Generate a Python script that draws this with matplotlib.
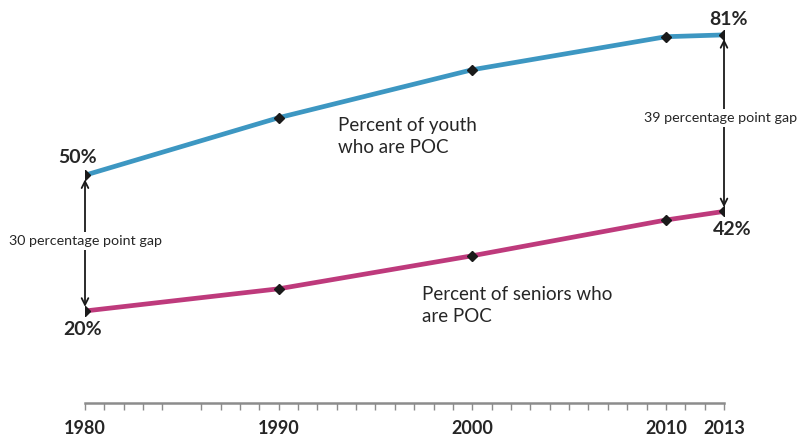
import numpy as np
import matplotlib
matplotlib.use("Agg")
import matplotlib.pyplot as plt

plt.rcParams['font.family'] = ['Lato', 'DejaVu Sans']

years = [1980, 1990, 2000, 2010, 2013]
youth_poc = [50, 62.7, 73.3, 80.6, 81]
senior_poc = [20, 24.9, 32.2, 40.1, 42]

tick_years = [1980, 1990, 2000, 2010, 2013]
minor_years = [y for y in range(1980, 2014) if y != 1985]

blue = '#3d97c2'
magenta = '#be3a7c'
txt = '#262626'

fig = plt.figure(figsize=(7.99, 4.43), dpi=100)
ax = fig.add_axes([85 / 799, 40 / 443, 639 / 799, 393 / 443])

ax.plot(years, youth_poc, color=blue, lw=3.4, solid_capstyle='round', zorder=2)
ax.plot(years, senior_poc, color=magenta, lw=3.4, solid_capstyle='round', zorder=2)
ax.plot(years, youth_poc, ls='none', marker='D', ms=5.5, color='#1a1a1a', zorder=3)
ax.plot(years, senior_poc, ls='none', marker='D', ms=5.5, color='#1a1a1a', zorder=3)

ax.set_xlim(1980, 2013)
ax.set_ylim(-0.33, 86.5)

for s in ['top', 'right', 'left']:
    ax.spines[s].set_visible(False)
ax.spines['bottom'].set_color('#8c8c8c')
ax.spines['bottom'].set_linewidth(1.8)
ax.set_yticks([])

ax.set_xticks(tick_years)
ax.set_xticklabels([str(y) for y in tick_years], fontsize=13, fontweight='bold', color=txt)
ax.set_xticks(minor_years, minor=True)
ax.tick_params(axis='x', which='both', direction='out', length=5, width=1,
               color='#8c8c8c', pad=7.5)

# end point labels
lab = dict(ha='center', va='baseline', fontsize=14, fontweight='bold', color=txt, clip_on=False)
ax.text(1979.6, 52.6, f'{youth_poc[0]:.0f}%', **lab)
ax.text(2013.25, 83.2, f'{youth_poc[-1]:.0f}%', **lab)
ax.text(1979.85, 14.7, f'{senior_poc[0]:.0f}%', **lab)
ax.text(2013.4, 36.8, f'{senior_poc[-1]:.0f}%', **lab)

# series captions
ax.text(1993.07, 58.5, 'Percent of youth\nwho are POC', ha='left', va='center',
        fontsize=13.5, color=txt, linespacing=1.37)
ax.text(1997.39, 21.3, 'Percent of seniors who\nare POC', ha='left', va='center',
        fontsize=13.5, color=txt, linespacing=1.37)

# gap arrows
arrow = dict(arrowstyle='<->', color='#1a1a1a', lw=1.3, shrinkA=3, shrinkB=3,
             mutation_scale=12)
ax.annotate('', xy=(1980, youth_poc[0]), xytext=(1980, senior_poc[0]), arrowprops=arrow)
ax.annotate('', xy=(2013, youth_poc[-1]), xytext=(2013, senior_poc[-1]), arrowprops=arrow)

gap_start = youth_poc[0] - senior_poc[0]
gap_end = youth_poc[-1] - senior_poc[-1]
ax.text(1980.05, 35.5, f'{gap_start:.0f} percentage point gap', ha='center', va='center',
        fontsize=10.3, color=txt, clip_on=False,
        bbox=dict(facecolor='white', edgecolor='none', pad=2))
ax.text(2012.82, 62.6, f'{gap_end:.0f} percentage point gap', ha='center', va='center',
        fontsize=10.3, color=txt, clip_on=False,
        bbox=dict(facecolor='white', edgecolor='none', pad=2))

fig.savefig('out.png', dpi=100)
